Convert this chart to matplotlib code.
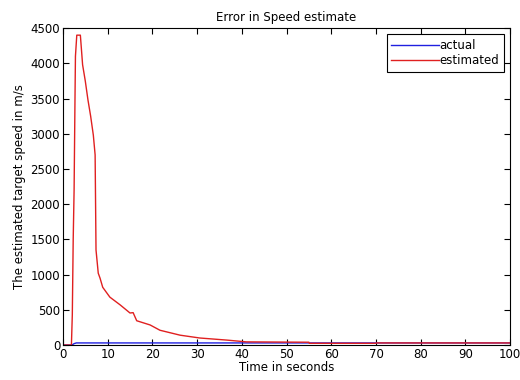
import matplotlib
matplotlib.use('Agg')
import matplotlib.pyplot as plt

# time (s) and speeds (m/s)
t_act = [0, 2.0, 2.5, 3.0, 40, 55, 70, 100]
v_act = [0, 0, 20, 30, 30, 30, 30, 30]

t_est = [0, 1.9, 2.1, 2.3, 2.5, 2.7, 2.8, 3.1, 3.9, 4.4, 5.0, 5.6, 6.2, 6.8, 7.2, 7.4,
         7.9, 8.3, 8.9, 10.5, 12.8, 15.0, 15.7, 16.5, 19.5, 21.7, 26.2, 30.6, 36.7,
         41, 55, 55.1, 70, 70.1, 100]
v_est = [0, 0, 430, 1500, 2200, 3500, 4100, 4400, 4400, 3980, 3750, 3480, 3250, 2980, 2700, 1350,
         1020, 950, 820, 680, 570, 455, 460, 345, 285, 210, 140, 100, 70,
         45, 40, 25, 25, 30, 30]

plt.rcParams['font.family'] = ['DejaVu Sans']
plt.rcParams['font.size'] = 8.5

fig = plt.figure(figsize=(5.2, 3.8), dpi=100)
ax = fig.add_axes([0.121, 0.092, 0.86, 0.834])
ax.plot(t_act, v_act, color='#2020e0', lw=1, label='actual')
ax.plot(t_est, v_est, color='#e02020', lw=1, label='estimated')
ax.set_xlim(0, 100)
ax.set_ylim(0, 4500)
ax.set_xticks(range(0, 101, 10))
ax.set_yticks(range(0, 4501, 500))
ax.tick_params(direction='in', top=True, right=True, length=4, width=0.8, pad=2)
ax.set_title('Error in Speed estimate', fontsize=8.5, pad=5)
ax.set_xlabel('Time in seconds', labelpad=0)
ax.set_ylabel('The estimated target speed in m/s', labelpad=3)
leg = ax.legend(loc='upper right', fancybox=False, edgecolor='black', framealpha=1,
                handlelength=4.0, handletextpad=0.1, borderpad=0.4, labelspacing=0.2,
                fontsize=8.5)
leg.get_frame().set_linewidth(0.8)
fig.savefig('out.png', dpi=100)
